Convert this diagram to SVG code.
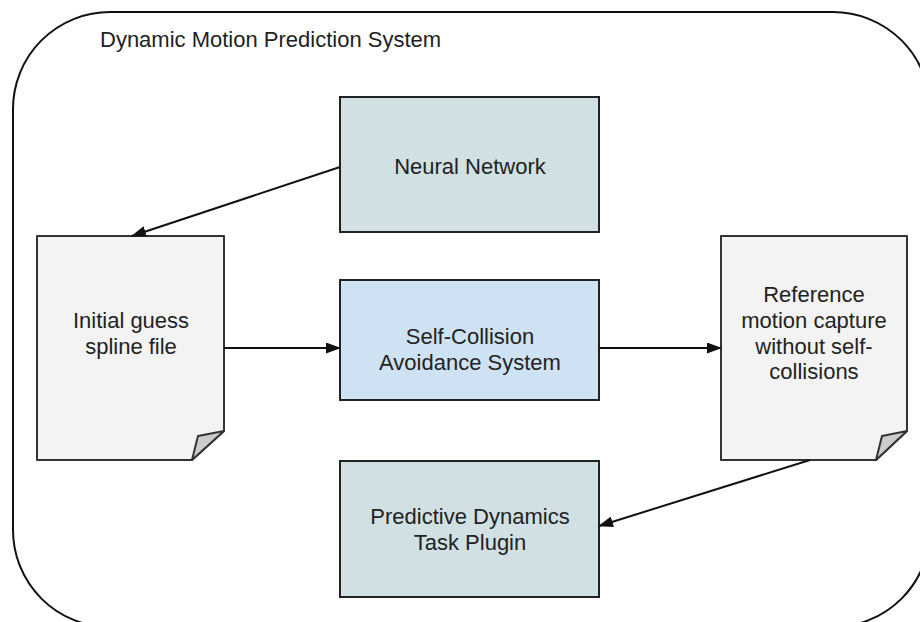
<svg xmlns="http://www.w3.org/2000/svg" width="920" height="622" viewBox="0 0 920 622">
<defs>
<style>
text{font-family:"Liberation Sans",Arial,sans-serif;font-size:22px;fill:#222;text-anchor:middle}
.box{stroke:#222;stroke-width:2}
.nn{fill:#d0e0e3}
.sc{fill:#cfe2f3}
.doc{fill:#f3f3f3;stroke:#333;stroke-width:2;stroke-linejoin:round}
.fold{fill:#cccccc;stroke:#333;stroke-width:2;stroke-linejoin:round}
.con{stroke:#111;stroke-width:2;fill:none;marker-end:url(#ah)}
</style>
<marker id="ah" viewBox="0 0 15 11" refX="14" refY="5.5" markerWidth="15" markerHeight="11" markerUnits="userSpaceOnUse" orient="auto">
<path d="M0,0 L15,5.5 L0,11 z" fill="#111"/>
</marker>
</defs>
<g id="system">
<rect x="13" y="12" width="917" height="615" rx="97" ry="97" fill="none" stroke="#111" stroke-width="2"/>
<text x="100" y="47" style="text-anchor:start">Dynamic Motion Prediction System</text>
</g>
<g id="neural-network">
<rect class="box nn" x="340" y="97" width="259" height="135"/>
<text x="470" y="174">Neural Network</text>
</g>
<g id="self-collision">
<rect class="box sc" x="340" y="280" width="259" height="120"/>
<text x="470" y="344">Self-Collision</text>
<text x="470" y="370">Avoidance System</text>
</g>
<g id="predictive-dynamics">
<rect class="box nn" x="340" y="461" width="259" height="136"/>
<text x="470" y="524">Predictive Dynamics</text>
<text x="470" y="550">Task Plugin</text>
</g>
<g id="initial-guess">
<path class="doc" d="M37,236 H224 V431 L192,460 H37 Z"/>
<path class="fold" d="M224,431 L198,436 L192,460 Z"/>
<text x="131" y="328">Initial guess</text>
<text x="131" y="354">spline file</text>
</g>
<g id="reference-motion">
<path class="doc" d="M721,236 H907 V431 L876,460 H721 Z"/>
<path class="fold" d="M907,431 L882,436 L876,460 Z"/>
<text x="814" y="302">Reference</text>
<text x="814" y="328">motion capture</text>
<text x="814" y="354">without self-</text>
<text x="814" y="379">collisions</text>
</g>
<g id="connectors">
<line class="con" x1="340" y1="167" x2="132" y2="236"/>
<line class="con" x1="224" y1="348" x2="340" y2="348"/>
<line class="con" x1="599" y1="348" x2="721" y2="348"/>
<line class="con" x1="810" y1="460" x2="599" y2="526"/>
</g>
</svg>
